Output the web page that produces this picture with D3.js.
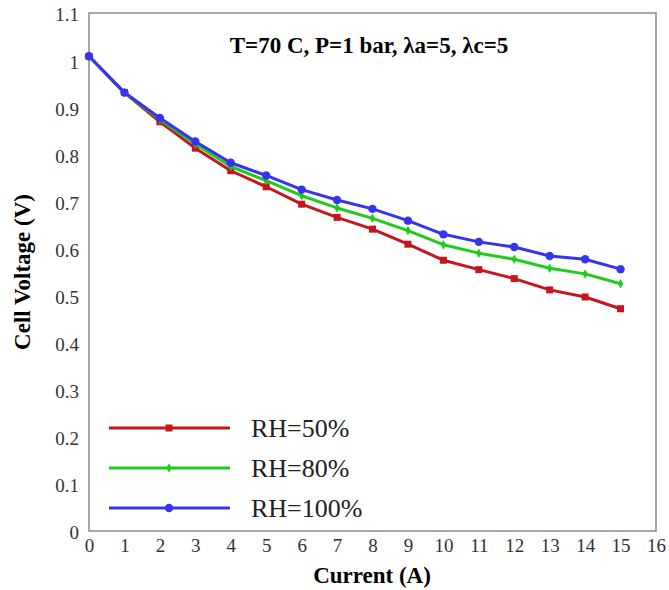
<!DOCTYPE html>
<html>
<head>
<meta charset="utf-8">
<script src="https://cdn.jsdelivr.net/npm/d3@7"></script>
<style>
  body { margin: 0; background: #fff; }
  text { font-family: "Liberation Serif", "Times New Roman", serif; }
</style>
</head>
<body>
<script>
var current = [0, 1, 2, 3, 4, 5, 6, 7, 8, 9, 10, 11, 12, 13, 14, 15];
var rh50  = [1.008, 0.931, 0.869, 0.813, 0.765, 0.731, 0.694, 0.666, 0.641, 0.609, 0.575, 0.555, 0.536, 0.512, 0.497, 0.472];
var rh80  = [1.008, 0.931, 0.874, 0.822, 0.774, 0.744, 0.712, 0.686, 0.664, 0.638, 0.608, 0.590, 0.577, 0.558, 0.546, 0.525];
var rh100 = [1.008, 0.931, 0.877, 0.827, 0.782, 0.755, 0.725, 0.703, 0.684, 0.659, 0.630, 0.614, 0.603, 0.584, 0.577, 0.556];
var seriesNames = ['RH=50%', 'RH=80%', 'RH=100%'];
var xTicks = d3.range(0, 17);
var yTicks = [0, 0.1, 0.2, 0.3, 0.4, 0.5, 0.6, 0.7, 0.8, 0.9, 1, 1.1];

var W = 669, H = 590;
var plotL = 89, plotR = 656, plotT = 13, plotB = 531;

var series = [
    {name: seriesNames[0], values: rh50,  color: '#c8141e', marker: 'square'},
    {name: seriesNames[1], values: rh80,  color: '#1ecc1e', marker: 'diamond'},
    {name: seriesNames[2], values: rh100, color: '#3535f0', marker: 'circle'}
];

var x = d3.scaleLinear().domain([0, 16]).range([plotL, plotR]);
var y = d3.scaleLinear().domain([0, 1.1]).range([plotB, plotT]);

var svg = d3.select('body').append('svg').attr('width', W).attr('height', H);

// plot frame
svg.append('rect')
    .attr('x', plotL).attr('y', plotT)
    .attr('width', plotR - plotL).attr('height', plotB - plotT)
    .attr('fill', 'none').attr('stroke', '#8a8a8a').attr('stroke-width', 1.5);

// axes, labels only
var xAxis = svg.append('g')
    .attr('transform', 'translate(0,' + plotB + ')')
    .call(d3.axisBottom(x).tickValues(xTicks).tickSize(0).tickPadding(8).tickFormat(d3.format('d')));
var yAxis = svg.append('g')
    .attr('transform', 'translate(' + plotL + ',0)')
    .call(d3.axisLeft(y).tickValues(yTicks).tickSize(0).tickPadding(10).tickFormat(function(d) { return d3.format('~g')(d); }));
[xAxis, yAxis].forEach(function(a) {
    a.select('.domain').remove();
    a.attr('font-family', '"Liberation Serif", serif').attr('font-size', 19);
    a.selectAll('text')
        .attr('font-family', '"Liberation Serif", serif')
        .attr('font-size', 19).attr('fill', '#333');
});
yAxis.selectAll('text').attr('dy', '0.42em');

// lines and markers
var line = d3.line()
    .x(function(d, i) { return x(current[i]); })
    .y(function(d) { return y(d); });

function drawMarker(g, type, color) {
    if (type === 'square') {
        g.append('rect').attr('x', -3.5).attr('y', -3.5).attr('width', 7).attr('height', 7).attr('fill', color);
    } else if (type === 'diamond') {
        g.append('path').attr('d', d3.symbol().type(d3.symbolDiamond).size(26)()).attr('fill', color);
    } else {
        g.append('circle').attr('r', 4.2).attr('fill', color);
    }
}

series.forEach(function(s) {
    svg.append('path')
        .datum(s.values)
        .attr('d', line)
        .attr('fill', 'none')
        .attr('stroke', s.color)
        .attr('stroke-width', 3)
        .attr('stroke-linejoin', 'round');
    svg.selectAll(null)
        .data(s.values)
        .enter()
        .append('g')
        .attr('transform', function(d, i) { return 'translate(' + x(current[i]) + ',' + y(d) + ')'; })
        .each(function() { drawMarker(d3.select(this), s.marker, s.color); });
});

// title inside plot
svg.append('text')
    .attr('x', 369).attr('y', 53)
    .attr('text-anchor', 'middle')
    .attr('font-size', 23).attr('font-weight', 'bold')
    .text('T=70 C, P=1 bar, \u03BBa=5, \u03BBc=5');

// legend
var legend = svg.append('g');
series.forEach(function(s, i) {
    var ly = 428 + i * 40;
    legend.append('line')
        .attr('x1', 109).attr('x2', 230).attr('y1', ly).attr('y2', ly)
        .attr('stroke', s.color).attr('stroke-width', 3);
    var m = legend.append('g').attr('transform', 'translate(169,' + ly + ')');
    drawMarker(m, s.marker, s.color);
    legend.append('text')
        .attr('x', 251).attr('y', ly + 9)
        .attr('font-size', 26).attr('fill', '#222')
        .text(s.name);
});

// axis titles
svg.append('text')
    .attr('x', 372).attr('y', 583)
    .attr('text-anchor', 'middle')
    .attr('font-size', 23).attr('font-weight', 'bold')
    .text('Current (A)');
svg.append('text')
    .attr('transform', 'translate(30,272) rotate(-90)')
    .attr('text-anchor', 'middle')
    .attr('font-size', 23).attr('font-weight', 'bold')
    .text('Cell Voltage (V)');
</script>
</body>
</html>
